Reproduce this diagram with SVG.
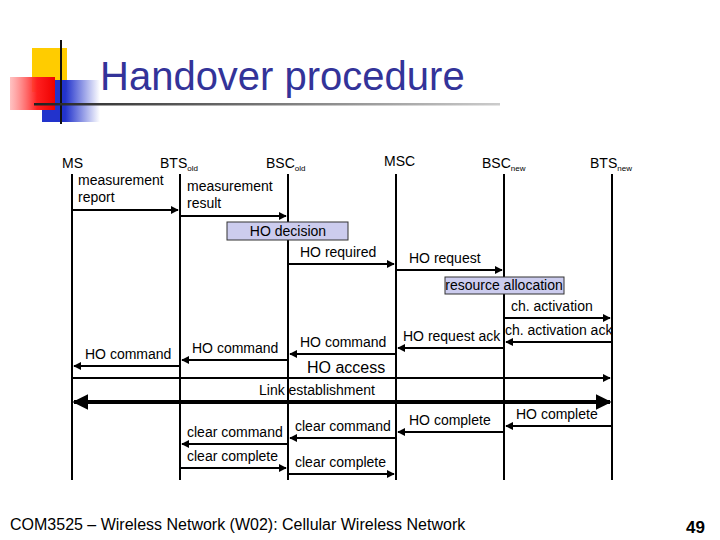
<svg xmlns="http://www.w3.org/2000/svg" width="720" height="540" viewBox="0 0 720 540">
<defs>
<linearGradient id="red" x1="0" x2="1"><stop offset="0" stop-color="#ff9999" stop-opacity="0.6"/><stop offset="0.6" stop-color="#ff2020"/><stop offset="1" stop-color="#ee0000"/></linearGradient>
<linearGradient id="blue" x1="0" x2="1"><stop offset="0.4" stop-color="#2233cc"/><stop offset="1" stop-color="#2233cc" stop-opacity="0"/></linearGradient>
<linearGradient id="hl" x1="0" x2="1"><stop offset="0" stop-color="#222"/><stop offset="1" stop-color="#ccc"/></linearGradient>
<marker id="a" viewBox="0 0 10 10" refX="9" refY="5" markerWidth="4" markerHeight="4" orient="auto-start-reverse"><path d="M0,0L10,5L0,10z" fill="#000"/></marker>
<style>
text{font-family:"Liberation Sans",Arial,sans-serif;font-size:14px;fill:#000}
.life line{stroke:#000;stroke-width:2}
#connectors line{stroke:#000;stroke-width:2;marker-end:url(#a)}
.box{fill:#ccccee;stroke:#333;stroke-width:1}
.sub{font-size:8px}
</style>
</defs>
<rect width="720" height="540" fill="#fff"/>
<rect x="32" y="48" width="35" height="44" fill="#ffcc00"/>
<rect x="42" y="80" width="58" height="42" fill="url(#blue)"/>
<rect x="10" y="77" width="45" height="33" fill="url(#red)"/>
<line x1="61" y1="40" x2="61" y2="124" stroke="#111" stroke-width="2"/>
<rect x="34" y="103" width="466" height="2.5" fill="url(#hl)"/>
<text x="100" y="90" style="font-size:40px;fill:#333399">Handover procedure</text>
<g class="life">
<g id="ms"><text x="62" y="168">MS</text><line x1="72" y1="174" x2="72" y2="480"/></g>
<g id="btsold"><text x="160" y="168">BTS<tspan class="sub" dy="3">old</tspan></text><line x1="180" y1="174" x2="180" y2="480"/></g>
<g id="bscold"><text x="266" y="168">BSC<tspan class="sub" dy="3">old</tspan></text><line x1="288" y1="174" x2="288" y2="480"/></g>
<g id="msc"><text x="384" y="166">MSC</text><line x1="396" y1="174" x2="396" y2="480"/></g>
<g id="bscnew"><text x="482" y="168">BSC<tspan class="sub" dy="3">new</tspan></text><line x1="504" y1="174" x2="504" y2="480"/></g>
<g id="btsnew"><text x="590" y="168">BTS<tspan class="sub" dy="3">new</tspan></text><line x1="612" y1="174" x2="612" y2="480"/></g>
</g>
<g id="hodecision"><rect class="box" x="227" y="222" width="121" height="18"/><text x="288" y="236" text-anchor="middle">HO decision</text></g>
<g id="resalloc"><rect class="box" x="445" y="277" width="119" height="17"/><text x="504" y="290" text-anchor="middle">resource allocation</text></g>
<g id="connectors">
<line x1="72" y1="210" x2="178" y2="210"/>
<line x1="180" y1="216" x2="286" y2="216"/>
<line x1="288" y1="264" x2="394" y2="264"/>
<line x1="396" y1="270" x2="502" y2="270"/>
<line x1="504" y1="318" x2="610" y2="318"/>
<line x1="612" y1="342" x2="506" y2="342"/>
<line x1="504" y1="348" x2="398" y2="348"/>
<line x1="396" y1="354" x2="290" y2="354"/>
<line x1="288" y1="360" x2="182" y2="360"/>
<line x1="180" y1="366" x2="74" y2="366"/>
<line x1="72" y1="378" x2="610" y2="378"/>
<line x1="74" y1="402" x2="610" y2="402" style="stroke-width:4;marker-start:url(#a)"/>
<line x1="612" y1="426" x2="506" y2="426"/>
<line x1="504" y1="432" x2="398" y2="432"/>
<line x1="396" y1="438" x2="290" y2="438"/>
<line x1="288" y1="444" x2="182" y2="444"/>
<line x1="180" y1="468" x2="286" y2="468"/>
<line x1="288" y1="474" x2="394" y2="474"/>
</g>
<g id="labels">
<text x="78" y="185">measurement</text><text x="78" y="202">report</text>
<text x="187" y="191">measurement</text><text x="187" y="208">result</text>
<text x="300" y="257">HO required</text>
<text x="409" y="263">HO request</text>
<text x="511" y="311">ch. activation</text>
<text x="505" y="335">ch. activation ack</text>
<text x="403" y="341">HO request ack</text>
<text x="300" y="347">HO command</text>
<text x="192" y="353">HO command</text>
<text x="85" y="359">HO command</text>
<text x="307" y="373" style="font-size:16px">HO access</text>
<text x="259" y="395">Link establishment</text>
<text x="516" y="419">HO complete</text>
<text x="409" y="425">HO complete</text>
<text x="295" y="431">clear command</text>
<text x="187" y="437">clear command</text>
<text x="187" y="461">clear complete</text>
<text x="295" y="467">clear complete</text>
</g>
<text x="10" y="530" style="font-size:16px">COM3525 – Wireless Network (W02): Cellular Wireless Network</text>
<text x="705" y="533" text-anchor="end" style="font-size:17px;font-weight:bold">49</text>
</svg>
